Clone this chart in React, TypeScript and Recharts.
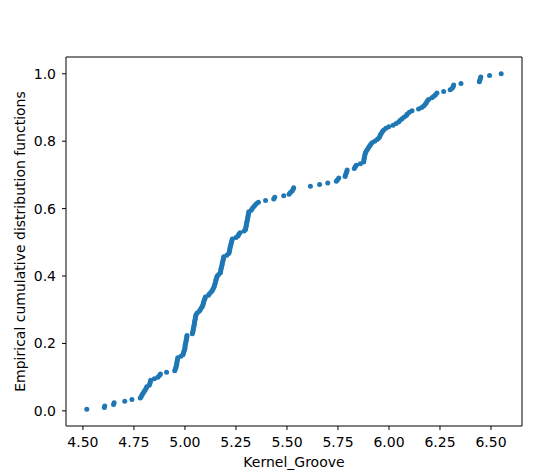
import React from 'react'
import { ScatterChart, Scatter, XAxis, YAxis, ReferenceLine } from 'recharts'

// sorted Kernel_Groove samples (n = 210)
const grooveValues = [
  4.519, 4.605, 4.607, 4.65, 4.653, 4.705, 4.74, 4.781, 4.786, 4.79,
  4.795, 4.8, 4.805, 4.81, 4.813, 4.825, 4.828, 4.83, 4.832, 4.85,
  4.867, 4.875, 4.88, 4.91, 4.95, 4.953, 4.956, 4.957, 4.96, 4.96,
  4.962, 4.963, 4.965, 4.98, 4.99, 4.993, 4.995, 4.998, 5.0, 5.0,
  5.001, 5.003, 5.005, 5.006, 5.008, 5.009, 5.01, 5.036, 5.038, 5.04,
  5.041, 5.043, 5.044, 5.046, 5.047, 5.048, 5.05, 5.051, 5.052, 5.055,
  5.06, 5.07, 5.075, 5.08, 5.085, 5.088, 5.09, 5.092, 5.095, 5.098,
  5.1, 5.115, 5.12, 5.128, 5.134, 5.138, 5.142, 5.144, 5.147, 5.149,
  5.151, 5.153, 5.156, 5.158, 5.165, 5.174, 5.175, 5.176, 5.178, 5.18,
  5.182, 5.183, 5.185, 5.187, 5.189, 5.19, 5.205, 5.215, 5.217, 5.219,
  5.22, 5.222, 5.224, 5.226, 5.228, 5.23, 5.232, 5.25, 5.26, 5.264,
  5.27, 5.29, 5.297, 5.298, 5.3, 5.301, 5.303, 5.304, 5.306, 5.307,
  5.309, 5.31, 5.312, 5.313, 5.325, 5.33, 5.336, 5.342, 5.35, 5.36,
  5.395, 5.435, 5.44, 5.484, 5.51, 5.517, 5.525, 5.53, 5.533, 5.615,
  5.66, 5.7, 5.742, 5.748, 5.754, 5.785, 5.787, 5.79, 5.793, 5.795,
  5.83, 5.835, 5.84, 5.86, 5.876, 5.877, 5.878, 5.88, 5.881, 5.883,
  5.885, 5.89, 5.895, 5.9, 5.905, 5.91, 5.917, 5.93, 5.942, 5.95,
  5.955, 5.958, 5.963, 5.968, 5.974, 5.985, 5.999, 6.02, 6.035, 6.047,
  6.055, 6.064, 6.075, 6.085, 6.09, 6.1, 6.113, 6.145, 6.16, 6.17,
  6.178, 6.183, 6.188, 6.194, 6.21, 6.22, 6.228, 6.235, 6.268, 6.3,
  6.31, 6.315, 6.317, 6.353, 6.443, 6.445, 6.448, 6.45, 6.493, 6.55,
]

const xTicks = [4.5, 4.75, 5.0, 5.25, 5.5, 5.75, 6.0, 6.25, 6.5]
const yTicks = [0, 0.2, 0.4, 0.6, 0.8, 1.0]

// empirical CDF: y = rank / n
const ecdf = grooveValues.map((x, i) => ({ x, y: (i + 1) / grooveValues.length }))

const font = { fontFamily: 'DejaVu Sans', fontSize: 14, fill: '#000' }
const xDomain: [number, number] = [4.417, 6.652]
const yDomain: [number, number] = [-0.045, 1.0498]

const Dot = (p: any) => <circle cx={p.cx} cy={p.cy} r={2.5} fill="#1f77b4" />

export default function App() {
  return (
    <div style={{ position: 'absolute', left: 0, top: 0, background: '#fff' }}>
      <ScatterChart width={552} height={472} margin={{ top: 57, right: 30, bottom: 0, left: 0 }}>
        <XAxis
          type="number" dataKey="x" domain={xDomain} ticks={xTicks} allowDataOverflow
          tickFormatter={(v) => Number(v).toFixed(2)}
          tick={font} tickSize={4} tickMargin={7} height={46}
          stroke="#000" tickLine={{ stroke: '#000' }}
          label={{ value: 'Kernel_Groove', position: 'insideBottom', offset: 5, style: font }}
        />
        <YAxis
          type="number" dataKey="y" domain={yDomain} ticks={yTicks} allowDataOverflow
          tickFormatter={(v) => Number(v).toFixed(1)}
          tick={font} tickSize={4} tickMargin={6} width={66}
          stroke="#000" tickLine={{ stroke: '#000' }}
          label={{ value: 'Empirical cumulative distribution functions', angle: -90, position: 'insideLeft', offset: 20, style: { ...font, textAnchor: 'middle' } }}
        />
        {/* top and right spines */}
        <ReferenceLine x={xDomain[1]} stroke="#000" ifOverflow="visible" />
        <ReferenceLine y={yDomain[1]} stroke="#000" ifOverflow="visible" />
        <Scatter data={ecdf} shape={Dot} isAnimationActive={false} />
      </ScatterChart>
    </div>
  )
}
